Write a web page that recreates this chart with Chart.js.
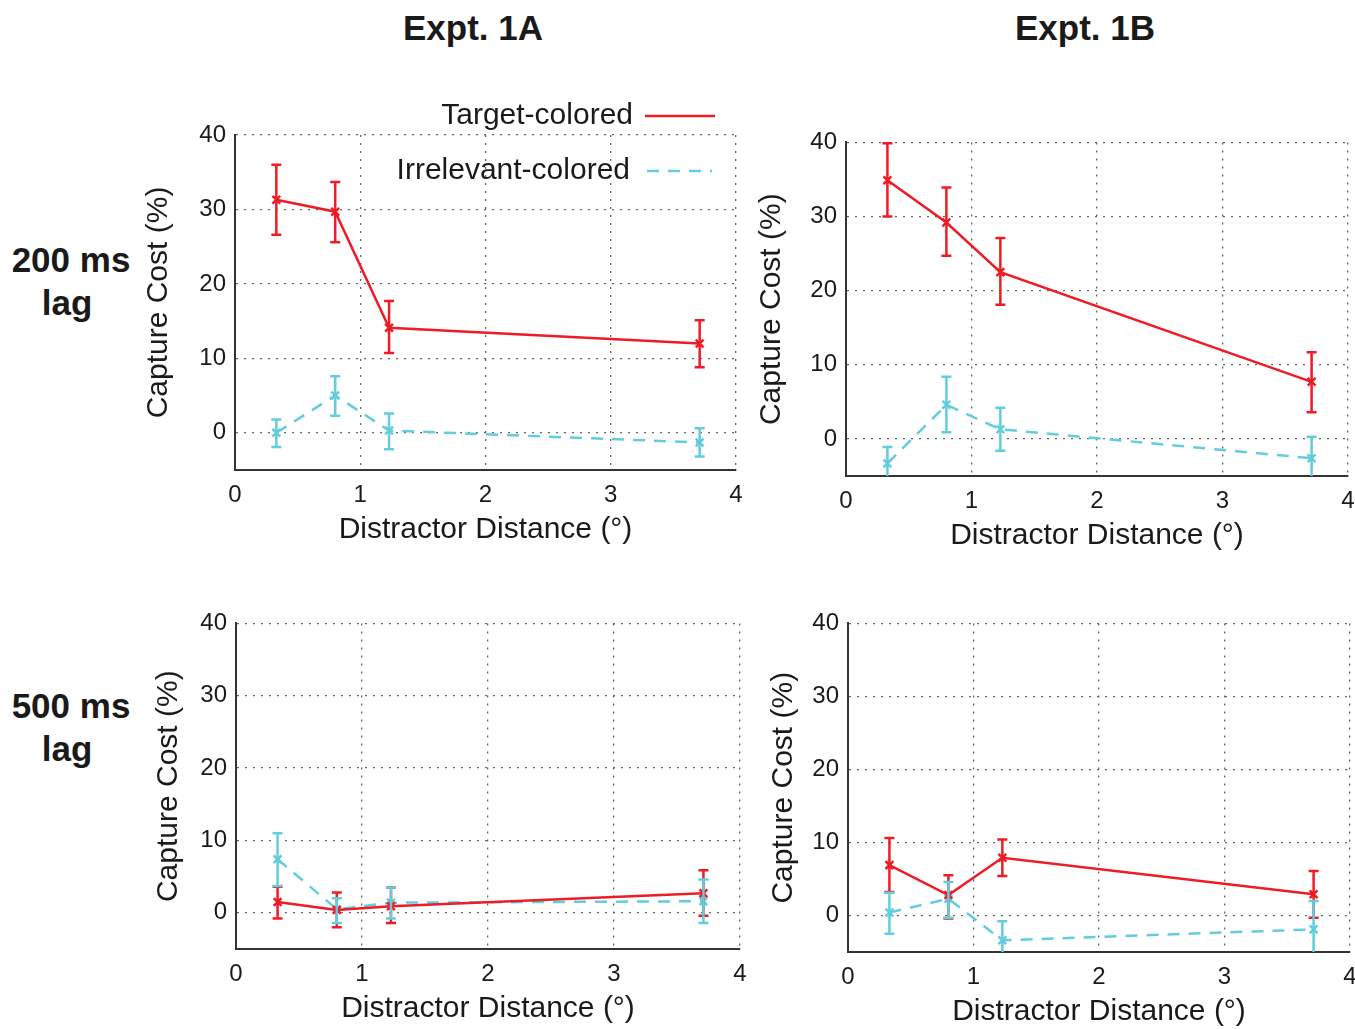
<!DOCTYPE html>
<html>
<head>
<meta charset="utf-8">
<script src="https://cdn.jsdelivr.net/npm/chart.js@4"></script>
<style>
  html, body { margin:0; padding:0; background:#fff; width:1355px; height:1029px; overflow:hidden; }
  body { position:relative; font-family:"Liberation Sans", Arial, sans-serif; color:#1a1a1a; }
  .ttl { position:absolute; font-weight:bold; font-size:35px; transform:translate(-50%,-50%); white-space:nowrap; }
  canvas { position:absolute; }
</style>
</head>
<body>
<div class="ttl" style="left:473px;top:28px">Expt. 1A</div>
<div class="ttl" style="left:1085px;top:28px">Expt. 1B</div>
<div class="ttl" style="left:71px;top:260px">200 ms</div>
<div class="ttl" style="left:67px;top:303px">lag</div>
<div class="ttl" style="left:71px;top:706px">500 ms</div>
<div class="ttl" style="left:67px;top:749px">lag</div>

<canvas id="c1"></canvas>
<canvas id="c2"></canvas>
<canvas id="c3"></canvas>
<canvas id="c4"></canvas>

<script>
// ---- data ----
const distances = [0.33, 0.8, 1.23, 3.71];
const xTicks = [0, 1, 2, 3, 4];
const yTicks = [0, 10, 20, 30, 40];
const seriesNames = ["Target-colored", "Irrelevant-colored"];

// Expt 1A, 200 ms lag
const target1A200 = [31.3, 29.7, 14.1, 12.0];
const target1A200Hi = [36.0, 33.7, 17.7, 15.1];
const target1A200Lo = [26.6, 25.6, 10.7, 8.8];
const irrel1A200 = [0.0, 5.0, 0.3, -1.3];
const irrel1A200Hi = [1.8, 7.6, 2.6, 0.6];
const irrel1A200Lo = [-1.9, 2.3, -2.2, -3.2];

// Expt 1B, 200 ms lag
const target1B200 = [34.9, 29.2, 22.5, 7.7];
const target1B200Hi = [39.9, 33.9, 27.1, 11.7];
const target1B200Lo = [30.0, 24.7, 18.1, 3.6];
const irrel1B200 = [-3.3, 4.6, 1.3, -2.6];
const irrel1B200Hi = [-1.1, 8.4, 4.2, 0.3];
const irrel1B200Lo = [-5.5, 0.9, -1.6, -5.5];

// Expt 1A, 500 ms lag
const target1A500 = [1.5, 0.4, 0.9, 2.7];
const target1A500Hi = [3.6, 2.8, 3.5, 5.9];
const target1A500Lo = [-0.8, -2.0, -1.4, -0.4];
const irrel1A500 = [7.4, 0.5, 1.4, 1.6];
const irrel1A500Hi = [11.0, 2.0, 3.5, 4.6];
const irrel1A500Lo = [3.7, -1.4, -0.8, -1.4];

// Expt 1B, 500 ms lag
const target1B500 = [6.9, 2.8, 7.9, 2.9];
const target1B500Hi = [10.6, 5.5, 10.4, 6.1];
const target1B500Lo = [3.2, -0.4, 5.4, -0.3];
const irrel1B500 = [0.4, 2.3, -3.4, -1.9];
const irrel1B500Hi = [3.1, 4.6, -0.8, 2.0];
const irrel1B500Lo = [-2.5, -0.3, -6.0, -6.0];

// ---- styling ----
const RED = "#ee1c25";
const CYAN = "#62cddc";
const FONT = "'Liberation Sans', Arial, sans-serif";

const errorBars = {
  id: "errorBars",
  afterDatasetsDraw(chart) {
    const ctx = chart.ctx, xs = chart.scales.x, ys = chart.scales.y, a = chart.chartArea;
    ctx.save();
    ctx.beginPath();
    ctx.rect(a.left, a.top - 2, a.right - a.left, a.bottom - a.top + 2);
    ctx.clip();
    chart.data.datasets.forEach(ds => {
      ctx.strokeStyle = ds.borderColor;
      ctx.lineWidth = 2.5;
      ctx.setLineDash([]);
      ds.data.forEach((p, i) => {
        const x = xs.getPixelForValue(p.x);
        const yh = ys.getPixelForValue(ds.errHi[i]);
        const yl = ys.getPixelForValue(ds.errLo[i]);
        ctx.beginPath();
        ctx.moveTo(x, yh); ctx.lineTo(x, yl);
        ctx.moveTo(x - 5, yh); ctx.lineTo(x + 5, yh);
        ctx.moveTo(x - 5, yl); ctx.lineTo(x + 5, yl);
        ctx.stroke();
      });
    });
    ctx.restore();
  }
};

const legendDraw = {
  id: "legendDraw",
  afterDraw(chart) {
    if (!chart.options.plugins.legendDraw || !chart.options.plugins.legendDraw.show) return;
    const ctx = chart.ctx, a = chart.chartArea;
    ctx.save();
    ctx.font = "30px " + FONT;
    ctx.fillStyle = "#1a1a1a";
    ctx.textAlign = "right";
    ctx.textBaseline = "middle";
    const rows = [{dy: -19, tx: a.right - 103, l1: a.right - 91, l2: a.right - 21},
                  {dy: 36, tx: a.right - 106, l1: a.right - 89, l2: a.right - 24}];
    chart.data.datasets.forEach((ds, k) => {
      const r = rows[k];
      const y = a.top + r.dy;
      ctx.fillText(ds.label, r.tx, y);
      ctx.strokeStyle = ds.borderColor;
      ctx.lineWidth = 2.5;
      ctx.setLineDash(ds.borderDash || []);
      ctx.beginPath();
      ctx.moveTo(r.l1, y); ctx.lineTo(r.l2, y);
      ctx.stroke();
    });
    ctx.restore();
  }
};

function pts(vals) { return vals.map((v, i) => ({x: distances[i], y: v})); }

function makePanel(id, box, red, redHi, redLo, cyan, cyanHi, cyanLo, showLegend) {
  const xh = 82, padR = 22;
  const cl = box.L - box.yw, ct = box.T - box.padTop;
  const cw = box.R - cl + padR, chh = box.B - ct + xh;
  const cv = document.getElementById(id);
  cv.style.left = cl + "px"; cv.style.top = ct + "px";
  cv.style.width = cw + "px"; cv.style.height = chh + "px";
  cv.width = cw; cv.height = chh;
  new Chart(cv, {
    type: "scatter",
    data: {
      datasets: [
        {label: seriesNames[0], data: pts(red), errHi: redHi, errLo: redLo,
         showLine: true, borderColor: RED, backgroundColor: RED, borderWidth: 2.5,
         pointStyle: "crossRot", pointRadius: 5.5, pointBorderWidth: 2.5},
        {label: seriesNames[1], data: pts(cyan), errHi: cyanHi, errLo: cyanLo,
         showLine: true, borderColor: CYAN, backgroundColor: CYAN, borderWidth: 2.5,
         borderDash: [12, 9], pointStyle: "crossRot", pointRadius: 5.5, pointBorderWidth: 2.5}
      ]
    },
    options: {
      responsive: false, animation: false, devicePixelRatio: 1,
      layout: {padding: {left: 0, top: box.padTop, right: padR, bottom: 0}},
      plugins: {legend: {display: false}, tooltip: {enabled: false}, legendDraw: {show: showLegend}},
      scales: {
        x: {
          type: "linear", min: 0, max: 4,
          afterBuildTicks: s => { s.ticks = xTicks.map(v => ({value: v})); },
          afterFit: s => { s.height = xh; },
          grid: {color: c => c.tick.value === 0 ? "rgba(0,0,0,0)" : "#666", lineWidth: 1.3, drawTicks: false},
          border: {display: true, color: "#333", width: 2, dash: [2, 6]},
          ticks: {font: {size: 24, family: FONT}, color: "#1a1a1a", padding: 11, maxRotation: 0},
          title: {display: true, text: "Distractor Distance (°)", font: {size: 30, family: FONT}, color: "#1a1a1a", padding: {top: 0, bottom: 4}}
        },
        y: {
          type: "linear", min: -5, max: 40,
          afterBuildTicks: s => { s.ticks = yTicks.map(v => ({value: v})); },
          afterFit: s => { s.width = box.yw; },
          grid: {color: "#666", lineWidth: 1.3, drawTicks: false},
          border: {display: true, color: "#333", width: 2, dash: [2, 6]},
          ticks: {font: {size: 24, family: FONT}, color: "#1a1a1a", padding: 9},
          title: {display: true, text: "Capture Cost (%)", font: {size: 30, family: FONT}, color: "#1a1a1a", padding: {top: 1, bottom: 0}}
        }
      }
    },
    plugins: [errorBars, legendDraw]
  });
}

makePanel("c1", {L: 235, R: 736, T: 135, B: 470, yw: 95, padTop: 45},
  target1A200, target1A200Hi, target1A200Lo, irrel1A200, irrel1A200Hi, irrel1A200Lo, true);
makePanel("c2", {L: 846, R: 1348, T: 139, B: 476, yw: 93, padTop: 20},
  target1B200, target1B200Hi, target1B200Lo, irrel1B200, irrel1B200Hi, irrel1B200Lo, false);
makePanel("c3", {L: 236, R: 740, T: 620, B: 949, yw: 86, padTop: 20},
  target1A500, target1A500Hi, target1A500Lo, irrel1A500, irrel1A500Hi, irrel1A500Lo, false);
makePanel("c4", {L: 848, R: 1350, T: 620, B: 952, yw: 83, padTop: 20},
  target1B500, target1B500Hi, target1B500Lo, irrel1B500, irrel1B500Hi, irrel1B500Lo, false);
</script>
</body>
</html>
